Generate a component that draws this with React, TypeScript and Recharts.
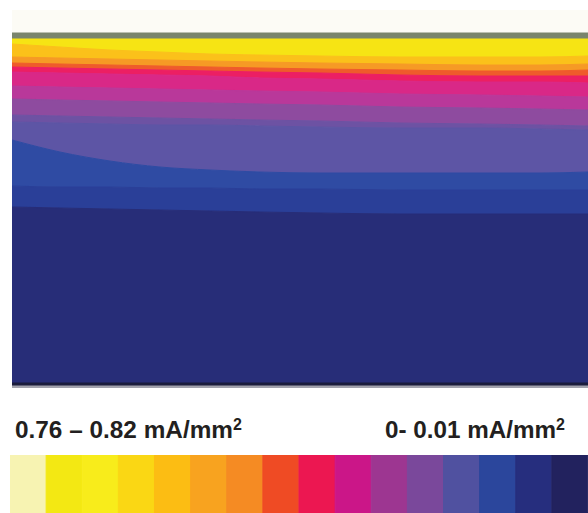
import { ComposedChart, Area, XAxis, YAxis, BarChart, Bar, Cell } from "recharts";

// positions across the section (px from left edge of the field)
const xs = [0, 48, 98, 148, 198, 248, 308, 388, 468, 528, 576];

// top edge of every colour band (px from top)
const edgeTop = [10, 10, 10, 10, 10, 10, 10, 10, 10, 10, 10];
const edgeRule = [33, 33, 33, 33, 33, 33, 33, 33, 33, 33, 33];
const edgeYellow = [39, 39, 39, 39, 39, 39, 39, 39, 39, 39, 39];
const edgeGold = [44, 47, 50, 52, 54, 55, 56, 57, 57, 57, 56];
const edgeOrange = [57, 58, 59, 60, 61, 62, 63, 64, 65, 65, 64];
const edgeRedOrange = [63, 64, 65, 66, 67, 68, 69, 70, 71, 71, 70];
const edgePink = [67, 68, 69, 70, 71, 72, 73, 75, 76, 76, 76];
const edgeMagenta = [72, 73, 74, 75, 76, 78, 79, 81, 82, 82, 83];
const edgeViolet = [86, 87, 88, 89, 90, 91, 92, 94, 95, 96, 97];
const edgePurple = [99, 100, 101, 102, 103, 104, 105, 107, 108, 109, 110];
const edgeIndigo = [115, 116, 117, 118, 119, 120, 121, 123, 124, 125, 126];
const edgeSlate = [122, 123, 124, 125, 125, 126, 127, 128, 128, 129, 130];
const edgeBlue = [140, 152, 161, 167, 170, 172, 173, 173, 173, 173, 172];
const edgeDeepBlue = [186, 187, 187, 188, 188, 189, 189, 190, 190, 190, 190];
const edgeNavy = [207, 208, 209, 210, 211, 212, 213, 214, 214, 214, 214];
const edgeRuleDark = [383, 383, 383, 383, 383, 383, 383, 383, 383, 383, 383];
const edgeRuleLight = [386, 386, 386, 386, 386, 386, 386, 386, 386, 386, 386];
const edgeBottom = [388, 388, 388, 388, 388, 388, 388, 388, 388, 388, 388];

const edges = [
  edgeTop, edgeRule, edgeYellow, edgeGold, edgeOrange, edgeRedOrange, edgePink,
  edgeMagenta, edgeViolet, edgePurple, edgeIndigo, edgeSlate, edgeBlue,
  edgeDeepBlue, edgeNavy, edgeRuleDark, edgeRuleLight, edgeBottom,
];

const bandColors = [
  "#fcfbf5", "#7a856d", "#f6e414", "#fbc11a", "#f69a25", "#ef5b2b", "#ec1f63",
  "#d92887", "#b9389a", "#8e4b9f", "#6d52a3", "#5d55a5", "#2f4ba3", "#2a3f98",
  "#272d78", "#1b1c3d", "#a2a2ad",
];

// legend scale, high to low
const scaleColors = [
  "#f7f3b2", "#f3e813", "#f8ec1b", "#fad714", "#fcbd13", "#f8a31f", "#f58b23", "#ef4b24",
  "#ec1751", "#cb1688", "#9d3691", "#7a489b", "#5051a0", "#2b469c", "#262e7e", "#22225e",
];

const highLabel = "0.76 – 0.82 mA/mm";
const lowLabel = "0- 0.01 mA/mm";

const fieldRows = xs.map((x, j) => {
  const row: Record<string, number> = { x };
  edges.forEach((e, i) => (row[`e${i}`] = e[j]));
  return row;
});

const scaleRows = scaleColors.map((_, i) => ({ step: i, v: 1 }));

const font = "'Liberation Sans', Arial, sans-serif";

export default function App() {
  return (
    <div style={{ position: "absolute", left: 0, top: 0, width: 588, height: 513, background: "#fff", overflow: "hidden" }}>
      <div style={{ position: "absolute", left: 12, top: 10 }}>
        <ComposedChart width={576} height={378} data={fieldRows} margin={{ top: 0, right: 0, bottom: 0, left: 0 }}>
          <XAxis dataKey="x" type="number" domain={[0, 576]} hide />
          <YAxis type="number" domain={[10, 388]} reversed hide allowDataOverflow />
          {bandColors.map((c, i) => (
            <Area
              key={`band-${i}`}
              dataKey={(row: Record<string, number>) => [row[`e${i}`], row[`e${i + 1}`]]}
              type="monotone"
              fill={c}
              fillOpacity={1}
              stroke={c}
              strokeWidth={1}
              dot={false}
              activeDot={false}
              isAnimationActive={false}
            />
          ))}
        </ComposedChart>
      </div>

      <svg style={{ position: "absolute", left: 0, top: 0 }} width={588} height={513}>
        <text x={15} y={438} fontFamily={font} fontWeight={700} fontSize={23.5} fill="#231f20" textLength={218} lengthAdjust="spacingAndGlyphs">
          {highLabel}
        </text>
        <text x={233} y={430} fontFamily={font} fontWeight={700} fontSize={16} fill="#231f20">2</text>
        <text x={385} y={438} fontFamily={font} fontWeight={700} fontSize={23.5} fill="#231f20" textLength={171} lengthAdjust="spacingAndGlyphs">
          {lowLabel}
        </text>
        <text x={556} y={430} fontFamily={font} fontWeight={700} fontSize={16} fill="#231f20">2</text>
      </svg>

      <div style={{ position: "absolute", left: 10, top: 455 }}>
        <BarChart width={578} height={58} data={scaleRows} barCategoryGap={0} barGap={0} margin={{ top: 0, right: 0, bottom: 0, left: 0 }}>
          <XAxis dataKey="step" type="category" hide />
          <YAxis type="number" domain={[0, 1]} hide />
          <Bar dataKey="v" isAnimationActive={false}>
            {scaleColors.map((c, i) => (
              <Cell key={`cell-${i}`} fill={c} stroke={c} />
            ))}
          </Bar>
        </BarChart>
      </div>
    </div>
  );
}
